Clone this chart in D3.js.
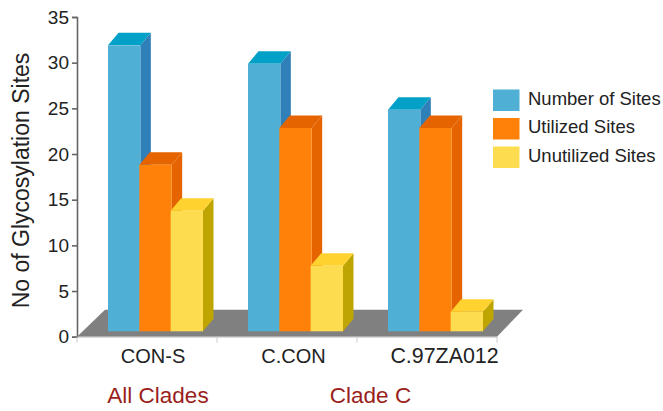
<!DOCTYPE html>
<html>
<head>
  <meta charset="utf-8">
  <title>Glycosylation Sites</title>
  <script src="https://d3js.org/d3.v7.min.js"></script>
  <style>
    html, body { margin: 0; padding: 0; background: #fff; }
    svg { display: block; }
    text { font-family: "Liberation Sans", Arial, sans-serif; }
  </style>
</head>
<body>
  <script>
    var categories = ['CON-S', 'C.CON', 'C.97ZA012'];
    var seriesNames = ['Number of Sites', 'Utilized Sites', 'Unutilized Sites'];
    var numberOfSites = [32, 30, 25];
    var utilizedSites = [19, 23, 23];
    var unutilizedSites = [14, 8, 3];
    var yTicks = [0, 5, 10, 15, 20, 25, 30, 35];
    var cladeLabels = ['All Clades', 'Clade C'];

    var width = 663, height = 411;
    var plot = { left: 77, right: 497, top: 17, bottom: 336.7 };
    var depthX = 10.5, depthY = 12.5;   // bar extrusion
    var floorDepth = 27, barLift = 5.4;

    var series = [
      { values: numberOfSites, front: '#4fafd4', top: '#03a0c7', side: '#2f80b8' },
      { values: utilizedSites, front: '#ff810a', top: '#e66400', side: '#e66400' },
      { values: unutilizedSites, front: '#fddd4f', top: '#ffd22f', side: '#bfa502' }
    ];

    var svg = d3.select('body').append('svg')
      .attr('width', width)
      .attr('height', height);

    var x = d3.scaleBand().domain(categories).range([plot.left, plot.right]);
    var y = d3.scaleLinear().domain([0, 35]).range([plot.bottom, plot.top]);
    // bars sit slightly forward of the axis plane, so their tops read a touch lower
    var yBar = d3.scaleLinear().domain([0, 35]).range([plot.bottom + 2.6, plot.top + 0.8]);
    var barX = d3.scaleBand().domain([0, 1, 2]).range([31, 125]);

    // grey floor under the bars
    svg.append('path')
      .attr('fill', '#808080')
      .attr('d', d3.line()([
        [plot.left, plot.bottom],
        [plot.left + floorDepth + 1, plot.bottom - floorDepth],
        [plot.right + floorDepth - 1, plot.bottom - floorDepth],
        [plot.right, plot.bottom]
      ]));

    var groups = svg.selectAll('g.group')
      .data(categories)
      .enter().append('g')
      .attr('class', 'group')
      .attr('transform', function(d) { return 'translate(' + x(d) + ',0)'; });

    groups.each(function(cat, c) {
      var g = d3.select(this);
      series.forEach(function(s, i) {
        var x0 = barX(i), w = barX.bandwidth() + 1;
        var x1 = x0 + w;
        var yTop = yBar(s.values[c]);
        var yBase = y(0) - barLift;
        g.append('path')
          .attr('fill', s.side)
          .attr('d', d3.line()([[x1, yTop], [x1 + depthX, yTop - depthY], [x1 + depthX, yBase - depthY], [x1, yBase]]));
        g.append('path')
          .attr('fill', s.top)
          .attr('d', d3.line()([[x0, yTop], [x0 + depthX, yTop - depthY], [x1 + depthX, yTop - depthY], [x1, yTop]]));
        g.append('rect')
          .attr('fill', s.front)
          .attr('x', x0)
          .attr('y', yTop)
          .attr('width', w)
          .attr('height', yBase - yTop);
      });
    });

    // axes
    var leftAxis = svg.append('g')
      .attr('transform', 'translate(' + plot.left + ',0)')
      .call(d3.axisLeft(y).tickValues(yTicks).tickSize(5).tickPadding(3));
    leftAxis.selectAll('path, line').attr('stroke', '#666').attr('stroke-width', 1.6);
    leftAxis.selectAll('text').style('font-size', '19px').attr('fill', '#222');

    var labelShift = [6, 6.5, 17.5];
    var labelSize = [20, 20, 21.4];
    var bottomAxis = svg.append('g')
      .attr('transform', 'translate(0,' + plot.bottom + ')')
      .call(d3.axisBottom(x).tickSize(0));
    bottomAxis.select('path').attr('stroke', '#ccc');
    bottomAxis.selectAll('text')
      .attr('dy', null)
      .attr('y', 26.5)
      .attr('dx', function(d, i) { return labelShift[i]; })
      .style('font-size', function(d, i) { return labelSize[i] + 'px'; })
      .attr('fill', '#222');
    bottomAxis.selectAll('line.sep')
      .data(d3.range(categories.length + 1))
      .enter().append('line')
      .attr('class', 'sep')
      .attr('stroke', '#ccc')
      .attr('x1', function(d) { return plot.left + d * x.step(); })
      .attr('x2', function(d) { return plot.left + d * x.step(); })
      .attr('y2', 6);

    svg.append('text')
      .attr('transform', 'translate(29,180.5) rotate(-90)')
      .attr('text-anchor', 'middle')
      .attr('fill', '#222')
      .style('font-size', '23px')
      .text('No of Glycosylation Sites');

    // clade captions
    var cladeX = [158, 370.5];
    svg.selectAll('text.clade')
      .data(cladeLabels)
      .enter().append('text')
      .attr('class', 'clade')
      .attr('x', function(d, i) { return cladeX[i]; })
      .attr('y', 403)
      .attr('text-anchor', 'middle')
      .attr('fill', '#9a1f1c')
      .style('font-size', '22.5px')
      .text(function(d) { return d; });

    // legend
    var legendY = d3.scalePoint().domain(seriesNames).range([89.5, 146.5]);
    var legend = svg.selectAll('g.legend')
      .data(seriesNames)
      .enter().append('g')
      .attr('class', 'legend')
      .attr('transform', function(d) { return 'translate(493,' + legendY(d) + ')'; });
    legend.append('rect')
      .attr('width', 26.5)
      .attr('height', 21.5)
      .attr('fill', function(d, i) { return series[i].front; });
    legend.append('text')
      .attr('x', 35)
      .attr('y', 15)
      .attr('fill', '#222')
      .style('font-size', '18.5px')
      .text(function(d) { return d; });
  </script>
</body>
</html>
